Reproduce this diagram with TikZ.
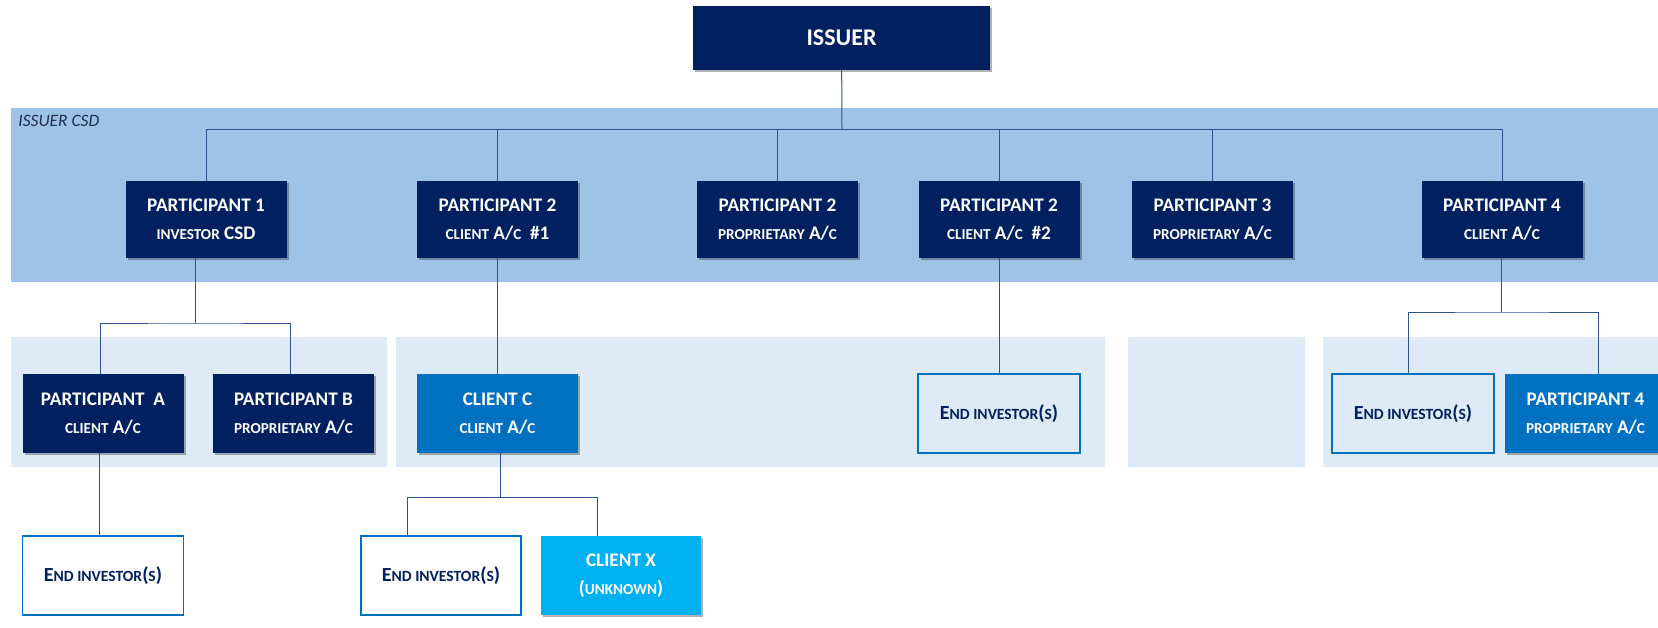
\documentclass[tikz,border=0pt]{standalone}
\usepackage{fontspec}
\setmainfont{Carlito}
\usetikzlibrary{shadows,calc}
\definecolor{navy}{RGB}{0,32,96}
\definecolor{midblue}{RGB}{0,112,192}
\definecolor{cyanblue}{RGB}{0,176,240}
\definecolor{bandcol}{RGB}{157,195,230}
\definecolor{lbandcol}{RGB}{222,235,247}
\definecolor{linecol}{RGB}{47,82,143}
\definecolor{labelcol}{RGB}{31,45,80}
\newcommand\smc[1]{{\fontsize{7.6}{8}\selectfont #1}}
\newcommand\smd[1]{{\fontsize{7.8}{8}\selectfont #1}}
\begin{document}
\begin{tikzpicture}[x=0.5pt,y=-0.5pt,
  shadowed/.style={drop shadow={shadow xshift=1pt,shadow yshift=-1.2pt,opacity=0.3,fill=black}},
  box/.style={rectangle,inner sep=0pt,minimum width=80.5pt,minimum height=38.5pt,align=center,
    font=\bfseries\fontsize{9.6}{14}\selectfont},
  dark/.style={box,fill=navy,text=white,shadowed},
  mid/.style={box,fill=midblue,text=white,shadowed},
  cyanbox/.style={box,fill=cyanblue,text=white,shadowed},
  endinv/.style={box,draw=midblue,line width=0.8pt,text=navy,font=\bfseries\fontsize{10}{14}\selectfont},
  conn/.style={draw=linecol,line width=0.5pt}]
\useasboundingbox (0,0) rectangle (1658,627);
\clip (0,0) rectangle (1658,627);
% bands
\fill[bandcol] (11,108) rectangle (1658,282);
\fill[lbandcol] (11,337) rectangle (387,467);
\fill[lbandcol] (396,337) rectangle (1105,467);
\fill[lbandcol] (1128,337) rectangle (1305,467);
\fill[lbandcol] (1323,337) rectangle (1658,467);
\node[anchor=west,inner sep=0pt,font=\itshape\fontsize{8.7}{10}\selectfont,text=labelcol] (csd) at (18,120.5) {ISSUER CSD};
% top
\node[dark,minimum width=148.5pt,minimum height=32pt,font=\bfseries\fontsize{12}{14}\selectfont] (issuer) at (841.5,38) {ISSUER};
% row 1
\node[dark] (p1) at (206,219.5) {PARTICIPANT 1\\\smc{INVESTOR} CSD};
\node[dark] (p2a) at (497.5,219.5) {PARTICIPANT 2\\\smc{CLIENT} A/\smc{C}\ \ \#1};
\node[dark] (p2p) at (777.5,219.5) {PARTICIPANT 2\\\smc{PROPRIETARY} A/\smc{C}};
\node[dark] (p2b) at (999,219.5) {PARTICIPANT 2\\\smc{CLIENT} A/\smc{C}\ \ \#2};
\node[dark] (p3) at (1212.5,219.5) {PARTICIPANT 3\\\smc{PROPRIETARY} A/\smc{C}};
\node[dark] (p4) at (1502,219.5) {PARTICIPANT 4\\\smc{CLIENT} A/\smc{C}};
% row 2
\node[dark,minimum height=39.5pt] (pa) at (103,413.5) {PARTICIPANT\ \ A\\\smc{CLIENT} A/\smc{C}};
\node[dark,minimum height=39.5pt] (pb) at (293.5,413.5) {PARTICIPANT B\\\smc{PROPRIETARY} A/\smc{C}};
\node[mid,minimum height=39.5pt] (cc) at (497.5,413.5) {CLIENT C\\\smc{CLIENT} A/\smc{C}};
\node[endinv,minimum width=81pt,minimum height=39.5pt] (ei2) at (999,413.5) {E\smd{ND INVESTOR}(\smd{S})};
\node[endinv,minimum width=81pt,minimum height=39.5pt] (ei4) at (1413,413.5) {E\smd{ND INVESTOR}(\smd{S})};
\node[mid,minimum height=39.5pt] (p4p) at (1585.5,413.5) {PARTICIPANT 4\\\smc{PROPRIETARY} A/\smc{C}};
% row 3
\node[endinv,fill=white,minimum height=39.5pt] (eia) at (103,575.5) {E\smd{ND INVESTOR}(\smd{S})};
\node[endinv,fill=white,minimum width=80pt,minimum height=39.5pt] (eic) at (441,575.5) {E\smd{ND INVESTOR}(\smd{S})};
\node[cyanbox,minimum width=80pt,minimum height=39.5pt] (cx) at (621,575.5) {CLIENT X\\(\smc{UNKNOWN})};
% connectors
\coordinate (bus) at (842,129);
\draw[conn] (issuer) -- (bus);
\draw[conn] (p1.north |- bus) -- (p4.north |- bus);
\foreach \n in {p1,p2a,p2p,p2b,p3,p4} {\draw[conn] (\n) -- (\n.north |- bus);}
\coordinate (j1) at (195,323);
\draw[conn] (p1.south -| j1) -- (j1);
\draw[conn] ([xshift=-1.5pt]pa.north) |- (j1) -| ([xshift=-1.75pt]pb.north);
\draw[conn] ([xshift=-2pt]pa.south) -- ([xshift=-2pt]eia.north);
\draw[conn] (p2a) -- (cc);
\draw[conn] (p2b) -- (ei2);
\coordinate (j2) at (500,497);
\draw[conn] (cc.south -| j2) -- (j2);
\draw[conn] ([xshift=-17pt]eic.north) |- (j2) -| ([xshift=-12pt]cx.north);
\coordinate (j3) at (1501,312);
\draw[conn] (p4.south -| j3) -- (j3);
\draw[conn] ([xshift=-2.5pt]ei4.north) |- (j3) -| ([xshift=6.25pt]p4p.north);
\end{tikzpicture}
\end{document}
